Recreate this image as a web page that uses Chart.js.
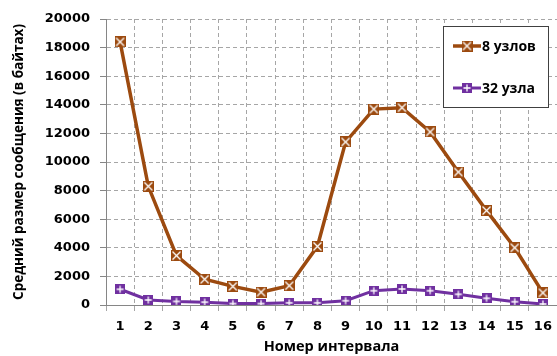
<!DOCTYPE html>
<html>
<head>
<meta charset="utf-8">
<script src="https://cdn.jsdelivr.net/npm/chart.js@4"></script>
<style>
  html, body { margin: 0; padding: 0; background: #fff; }
  #wrap { width: 557px; height: 356px; }
</style>
</head>
<body>
<div id="wrap"><canvas id="chart" width="557" height="356"></canvas></div>
<script>
const intervals = ['1', '2', '3', '4', '5', '6', '7', '8', '9', '10', '11', '12', '13', '14', '15', '16'];
const nodes8 = [18400, 8300, 3450, 1800, 1300, 900, 1350, 4100, 11400, 13700, 13800, 12100, 9300, 6600, 4000, 850];
const nodes32 = [1100, 350, 250, 200, 100, 100, 150, 150, 300, 1000, 1120, 1000, 750, 470, 230, 70];
const seriesNames = ['8 узлов', '32 узла'];

const brown = '#9c4a0f';
const purple = '#7030a0';
const font = "'Open Sans', 'DejaVu Sans', sans-serif";
const tickFont = "'DejaVu Sans', sans-serif";

// marker: filled square with white cross (x or +)
function makeMarker(color, kind, size) {
    const c = document.createElement('canvas');
    c.width = size; c.height = size;
    const g = c.getContext('2d');
    g.fillStyle = color;
    g.fillRect(0, 0, size, size);
    g.strokeStyle = '#fff';
    g.lineWidth = 1.3;
    g.beginPath();
    if (kind === 'x') {
        g.moveTo(1.5, 1.5); g.lineTo(size - 1.5, size - 1.5);
        g.moveTo(size - 1.5, 1.5); g.lineTo(1.5, size - 1.5);
    } else {
        g.moveTo(size / 2, 1.5); g.lineTo(size / 2, size - 1.5);
        g.moveTo(1.5, size / 2); g.lineTo(size - 1.5, size / 2);
    }
    g.stroke();
    return c;
}

const marker8 = makeMarker(brown, 'x', 11);
const marker32 = makeMarker(purple, '+', 10);

const boxLegend = {
    id: 'boxLegend',
    afterDraw(chart) {
        const ctx = chart.ctx;
        ctx.save();
        ctx.fillStyle = '#fff';
        ctx.fillRect(443.5, 26.5, 105, 81);
        ctx.strokeStyle = '#404040';
        ctx.lineWidth = 1;
        ctx.strokeRect(443.5, 26.5, 105, 81);
        const rows = [
            { y: 46, color: brown, img: marker8, w: 3.5 },
            { y: 88, color: purple, img: marker32, w: 3 }
        ];
        rows.forEach((r, i) => {
            ctx.strokeStyle = r.color;
            ctx.lineWidth = r.w;
            ctx.beginPath();
            ctx.moveTo(453, r.y); ctx.lineTo(481, r.y);
            ctx.stroke();
            ctx.drawImage(r.img, 467 - r.img.width / 2, r.y - r.img.height / 2);
            ctx.fillStyle = '#000';
            ctx.font = 'bold 14px ' + font;
            ctx.textBaseline = 'middle';
            ctx.fillText(seriesNames[i], 482, r.y + 1);
        });
        ctx.restore();
    }
};

new Chart(document.getElementById('chart'), {
    type: 'line',
    data: {
        labels: intervals,
        datasets: [
            {
                label: seriesNames[0],
                data: nodes8,
                borderColor: brown,
                backgroundColor: brown,
                borderWidth: 3.5,
                pointStyle: marker8,
                tension: 0
            },
            {
                label: seriesNames[1],
                data: nodes32,
                borderColor: purple,
                backgroundColor: purple,
                borderWidth: 3,
                pointStyle: marker32,
                tension: 0
            }
        ]
    },
    options: {
        responsive: false,
        animation: false,
        layout: { autoPadding: false, padding: { top: 19, right: 0, left: 0, bottom: 0 } },
        plugins: {
            legend: { display: false },
            tooltip: { enabled: false }
        },
        scales: {
            x: {
                offset: true,
                grid: {
                    offset: true,
                    color: '#a6a6a6',
                    tickColor: '#a6a6a6',
                    tickLength: 6
                },
                border: { display: true, color: '#868686', dash: [4, 3], width: 1 },
                ticks: {
                    color: '#000',
                    font: { family: tickFont, size: 13, weight: 'bold' },
                    padding: 8,
                    maxRotation: 0,
                    autoSkip: false
                },
                title: {
                    display: true,
                    text: 'Номер интервала',
                    color: '#000',
                    font: { family: font, size: 14.5, weight: 'bold' },
                    padding: { top: 3, bottom: 0 }
                },
                afterFit(scale) {
                    scale.height = 51;
                    scale.paddingLeft = 0;
                    scale.paddingRight = 0;
                }
            },
            y: {
                min: 0,
                max: 20000,
                grid: {
                    color: '#a6a6a6',
                    tickColor: '#868686',
                    tickLength: 6,
                    tickBorderDash: []
                },
                border: { display: true, color: '#868686', dash: [4, 3], width: 1 },
                ticks: {
                    stepSize: 2000,
                    color: '#000',
                    font: { family: tickFont, size: 13, weight: 'bold' },
                    padding: 10,
                    callback: (v) => String(v)
                },
                title: {
                    display: true,
                    text: 'Средний размер сообщения (в байтах)',
                    color: '#000',
                    font: { family: font, size: 13.5, weight: 'bold' },
                    padding: { top: 11, bottom: 4 }
                },
                afterFit(scale) { scale.width = 106; }
            }
        }
    },
    plugins: [boxLegend]
});
</script>
</body>
</html>
